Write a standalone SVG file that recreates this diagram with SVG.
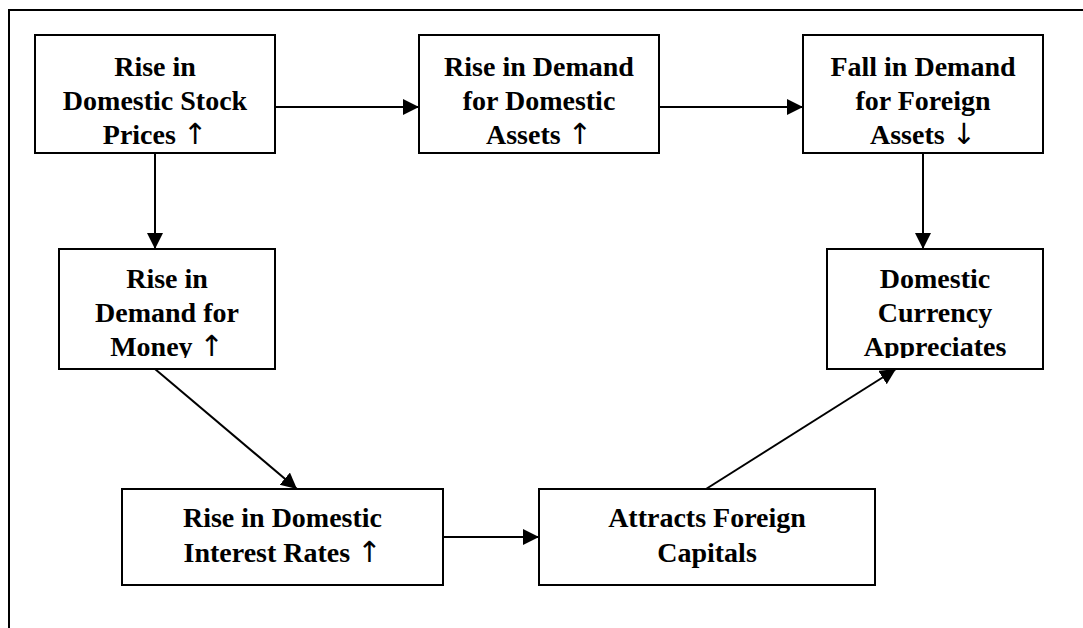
<svg xmlns="http://www.w3.org/2000/svg" width="1083" height="628" viewBox="0 0 1083 628">
<style>
.box{fill:#fff;stroke:#000;stroke-width:2}
.t{font-family:"Liberation Serif","Times New Roman",serif;font-weight:bold;font-size:28px;text-anchor:middle;fill:#000}
.a{font-family:"DejaVu Sans",sans-serif;font-weight:normal;font-size:29px}
.c{stroke:#000;stroke-width:2;fill:none;marker-end:url(#ah)}
</style>
<defs>
<marker id="ah" markerUnits="userSpaceOnUse" markerWidth="18" markerHeight="18" refX="16" refY="8" orient="auto">
<path d="M0,0 L16,8 L0,16 z" fill="#000"/>
</marker>
<clipPath id="clip4"><rect x="59" y="249" width="216" height="109"/></clipPath>
<clipPath id="clip5"><rect x="827" y="249" width="216" height="109"/></clipPath>
</defs>
<rect width="1083" height="628" fill="#fff"/>
<path d="M9,628 V10 H1083" fill="none" stroke="#000" stroke-width="2"/>
<g id="connectors">
<line class="c" x1="275" y1="107" x2="419" y2="107"/>
<line class="c" x1="659" y1="107" x2="803" y2="107"/>
<line class="c" x1="155" y1="153" x2="155" y2="249"/>
<line class="c" x1="923" y1="153" x2="923" y2="249"/>
<line class="c" x1="155" y1="369" x2="297" y2="489"/>
<line class="c" x1="443" y1="537" x2="539" y2="537"/>
<line class="c" x1="706" y1="489" x2="896" y2="369"/>
</g>
<g id="n1">
<rect class="box" x="35" y="35" width="240" height="118"/>
<text class="t" x="155" y="76">Rise in</text>
<text class="t" x="155" y="110">Domestic Stock</text>
<text class="t" x="155" y="144">Prices <tspan class="a">↑</tspan></text>
</g>
<g id="n2">
<rect class="box" x="419" y="35" width="240" height="118"/>
<text class="t" x="539" y="76">Rise in Demand</text>
<text class="t" x="539" y="110">for Domestic</text>
<text class="t" x="539" y="144">Assets <tspan class="a">↑</tspan></text>
</g>
<g id="n3">
<rect class="box" x="803" y="35" width="240" height="118"/>
<text class="t" x="923" y="76">Fall in Demand</text>
<text class="t" x="923" y="110">for Foreign</text>
<text class="t" x="923" y="144">Assets <tspan class="a">↓</tspan></text>
</g>
<g id="n4">
<rect class="box" x="59" y="249" width="216" height="120"/>
<g clip-path="url(#clip4)">
<text class="t" x="167" y="288">Rise in</text>
<text class="t" x="167" y="322">Demand for</text>
<text class="t" x="167" y="356">Money <tspan class="a">↑</tspan></text>
</g>
</g>
<g id="n5">
<rect class="box" x="827" y="249" width="216" height="120"/>
<g clip-path="url(#clip5)">
<text class="t" x="935" y="288">Domestic</text>
<text class="t" x="935" y="322">Currency</text>
<text class="t" x="935" y="356">Appreciates</text>
</g>
</g>
<g id="n6">
<rect class="box" x="122" y="489" width="321" height="96"/>
<text class="t" x="282.5" y="527">Rise in Domestic</text>
<text class="t" x="282.5" y="562">Interest Rates <tspan class="a">↑</tspan></text>
</g>
<g id="n7">
<rect class="box" x="539" y="489" width="336" height="96"/>
<text class="t" x="707" y="527">Attracts Foreign</text>
<text class="t" x="707" y="562">Capitals</text>
</g>
</svg>
